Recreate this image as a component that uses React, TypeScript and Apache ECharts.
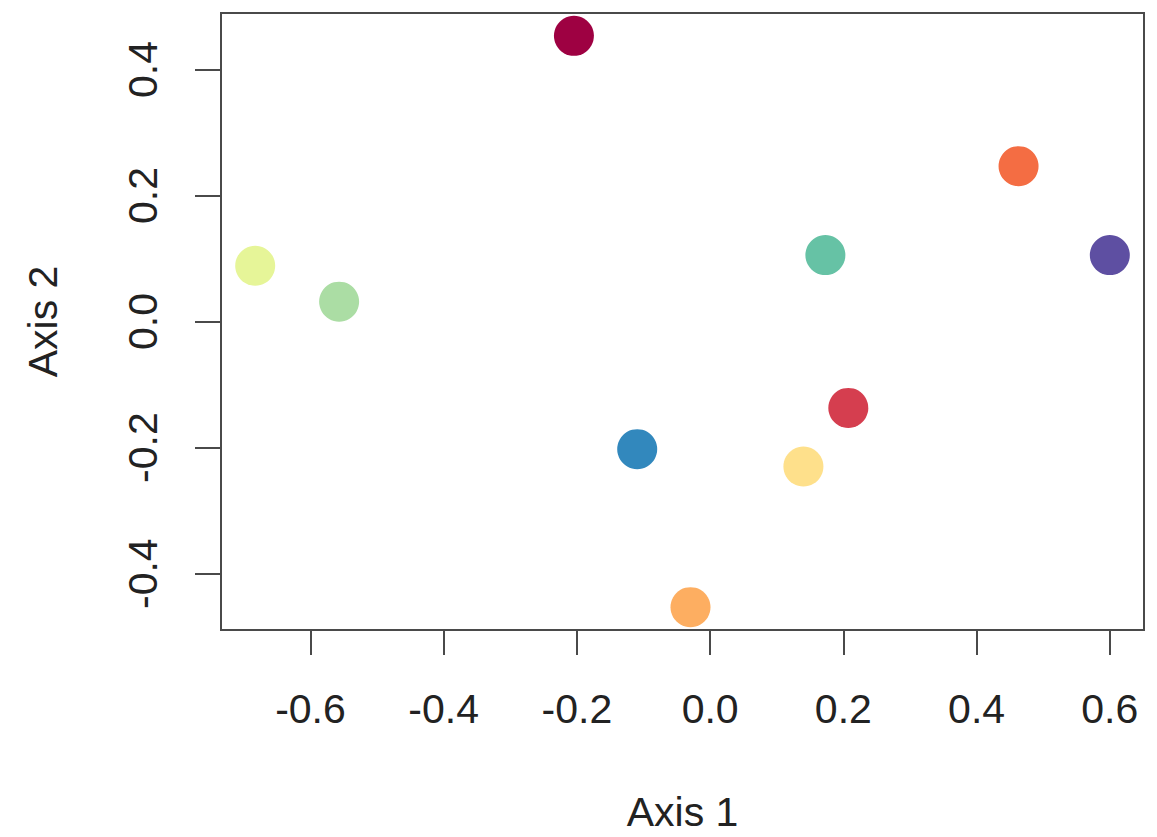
import React, { useEffect, useRef } from "react";
import * as echarts from "echarts";

// Ordination scores (Axis 1, Axis 2), one point per sample
const axis1 = [-0.2045, 0.2074, 0.463, -0.0295, 0.14, -0.683, -0.557, 0.173, -0.1095, 0.6];
const axis2 = [0.4533, -0.137, 0.2466, -0.4531, -0.23, 0.0885, 0.0316, 0.1055, -0.2024, 0.1055];
const palette = ["#9E0142", "#D53E4F", "#F46D43", "#FDAE61", "#FEE08B", "#E6F598", "#ABDDA4", "#66C2A5", "#3288BD", "#5E4FA2"];
const xTicks = [-0.6, -0.4, -0.2, 0.0, 0.2, 0.4, 0.6];
const yTicks = [-0.4, -0.2, 0.0, 0.2, 0.4];
const xTitle = "Axis 1";
const yTitle = "Axis 2";

// R-style axis extent: data range padded by 4% on each side
function padRange(v: number[]) {
  const lo = Math.min(...v);
  const hi = Math.max(...v);
  const p = (hi - lo) * 0.04;
  return [lo - p, hi + p];
}

const FONT = "'Liberation Sans', Arial, Helvetica, sans-serif";

export default function App() {
  const ref = useRef<HTMLDivElement>(null);
  useEffect(() => {
    if (!ref.current) return;
    const chart = echarts.init(ref.current, undefined, { renderer: "svg" });
    const [xmin, xmax] = padRange(axis1);
    const [ymin, ymax] = padRange(axis2);
    const fmt = (v: number) => v.toFixed(1);
    chart.setOption({
      animation: false,
      backgroundColor: "#ffffff",
      textStyle: { fontFamily: FONT },
      grid: {
        left: 221,
        top: 13,
        right: 13,
        bottom: 204,
        show: true,
        borderColor: "#4a4a4a",
        borderWidth: 2,
        backgroundColor: "transparent",
      },
      xAxis: {
        type: "value",
        min: xmin,
        max: xmax,
        splitLine: { show: false },
        axisLine: { show: false, onZero: false },
        axisTick: {
          show: true,
          customValues: xTicks,
          length: 25,
          inside: false,
          lineStyle: { color: "#4a4a4a", width: 2 },
        },
        axisLabel: {
          customValues: xTicks,
          formatter: fmt,
          fontSize: 41,
          color: "#222",
          margin: 58,
          fontFamily: FONT,
        },
        name: xTitle,
        nameLocation: "middle",
        nameGap: 161,
        nameTextStyle: { fontSize: 41, color: "#222", fontFamily: FONT },
      },
      yAxis: {
        type: "value",
        min: ymin,
        max: ymax,
        splitLine: { show: false },
        axisLine: { show: false, onZero: false },
        axisTick: {
          show: true,
          customValues: yTicks,
          length: 26,
          inside: false,
          lineStyle: { color: "#4a4a4a", width: 2 },
        },
        axisLabel: {
          customValues: yTicks,
          formatter: fmt,
          rotate: 90,
          fontSize: 41,
          color: "#222",
          margin: 58,
          fontFamily: FONT,
        },
        name: yTitle,
        nameLocation: "middle",
        nameGap: 158,
        nameTextStyle: { fontSize: 41, color: "#222", fontFamily: FONT },
      },
      series: [
        {
          type: "scatter",
          symbol: "circle",
          symbolSize: 40,
          data: axis1.map((x, i) => ({
            value: [x, axis2[i]],
            itemStyle: { color: palette[i], opacity: 1 },
          })),
        },
      ],
    });
    return () => chart.dispose();
  }, []);
  return (
    <div
      ref={ref}
      style={{ position: "fixed", left: 0, top: 0, width: 1157, height: 837 }}
    />
  );
}
